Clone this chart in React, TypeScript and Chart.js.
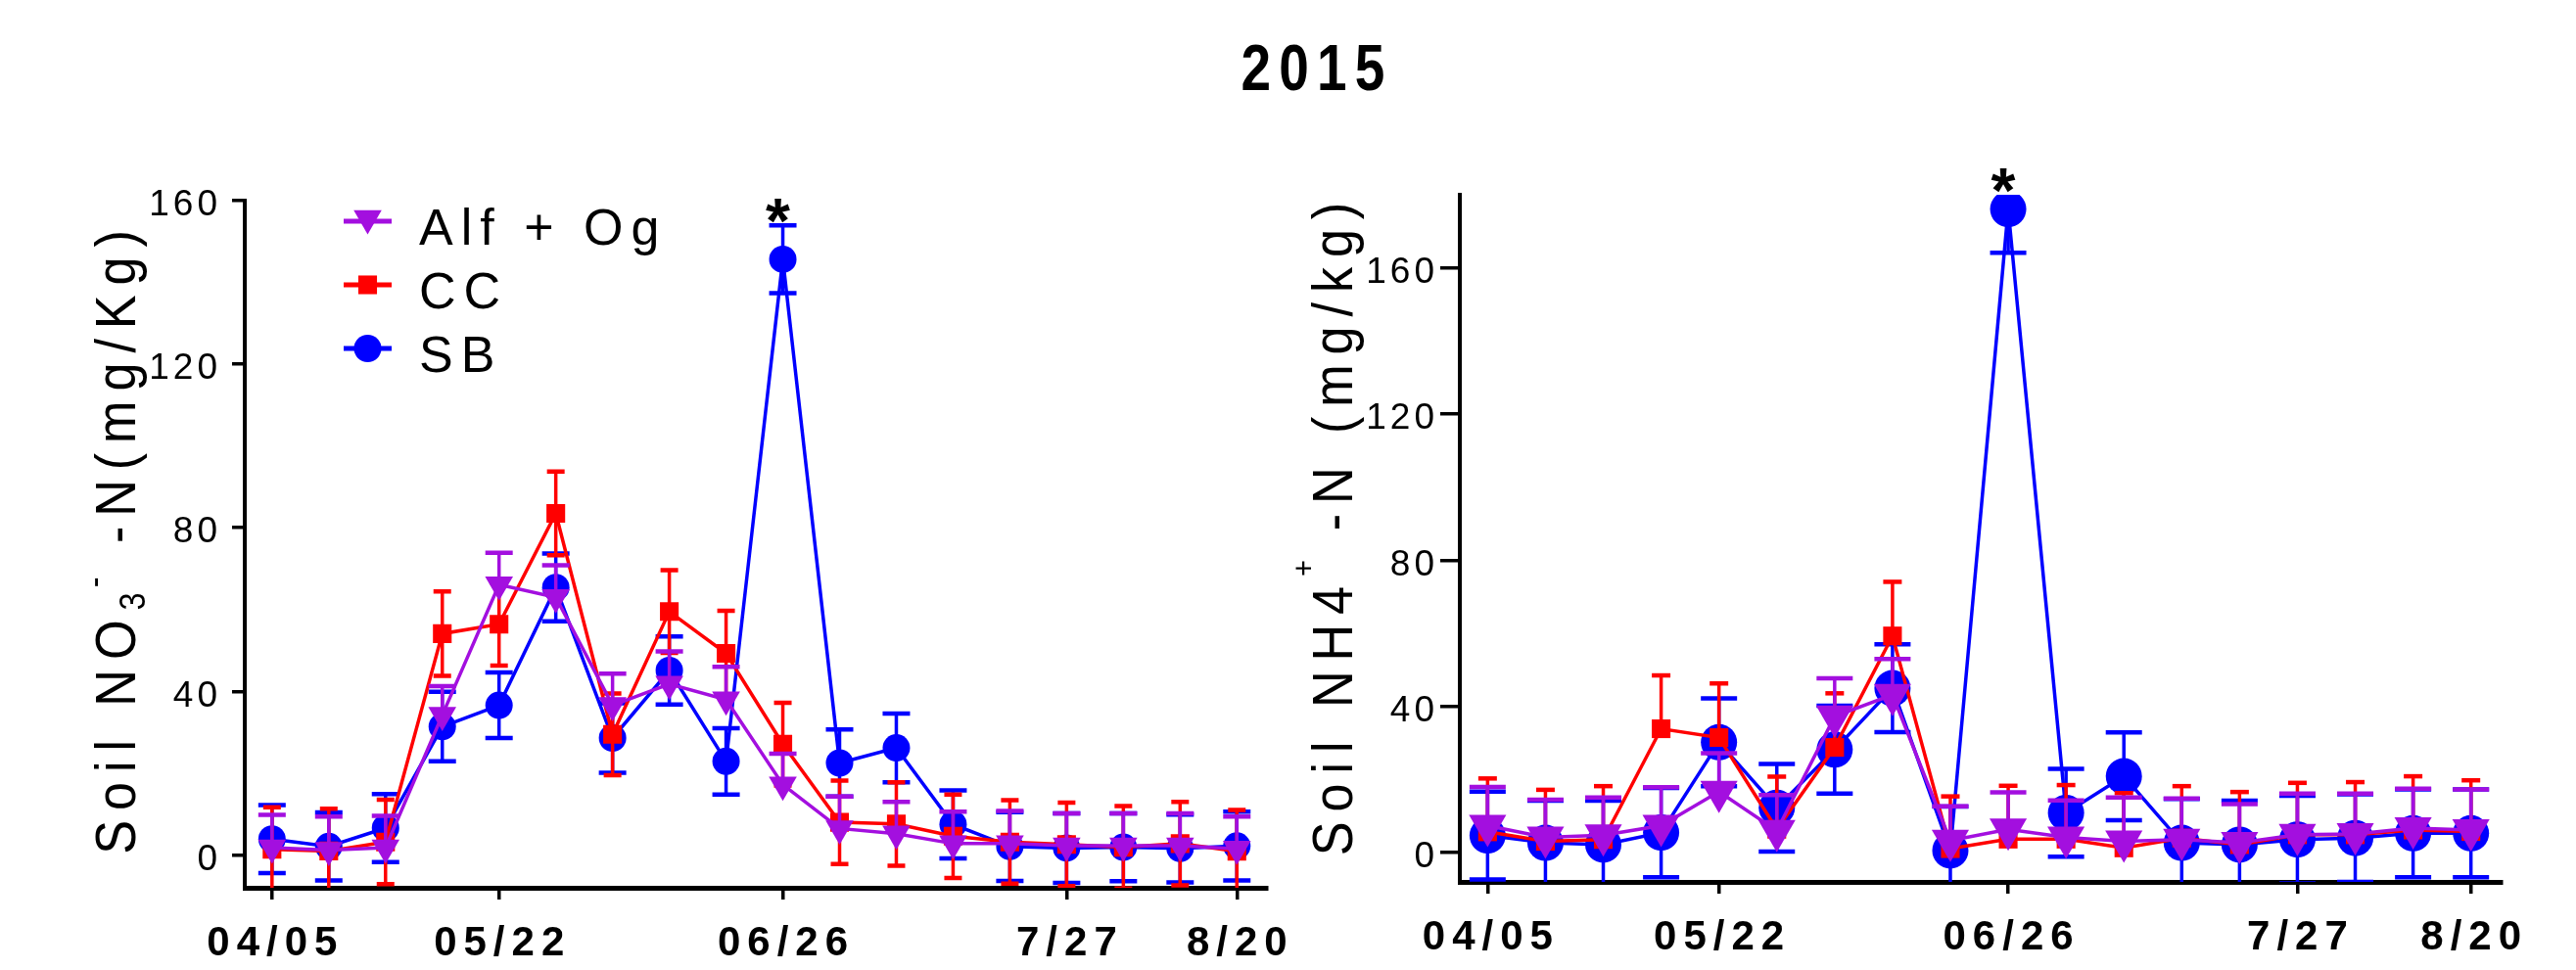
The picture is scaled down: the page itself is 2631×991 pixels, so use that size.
import React, { useEffect, useRef } from 'react';
import { Chart, registerables } from 'chart.js';

Chart.register(...registerables);

// ---------------- data ----------------
const xIndex = [0, 1, 2, 3, 4, 5, 6, 7, 8, 9, 10, 11, 12, 13, 14, 15, 16, 17];
const tickIndex = [0, 4, 9, 14, 17];
const tickLabels = ['04/05', '05/22', '06/26', '7/27', '8/20'];
const seriesNames = ['Alf + Og', 'CC', 'SB'];
const yTicks = [0, 40, 80, 120, 160];

// Soil NO3- -N (mg/Kg)
const no3Alf = [1.8, 1.2, 1.8, 34.2, 66.1, 63.0, 36.6, 41.8, 38.0, 17.2, 6.5, 5.2, 2.8, 2.8, 2.3, 2.3, 2.3, 1.5];
const no3AlfErr = [8.0, 8.2, 7.8, 7.1, 7.8, 7.8, 7.7, 8.0, 8.0, 7.6, 7.8, 7.8, 7.8, 8.0, 7.9, 7.9, 7.9, 7.9];
const no3CC = [1.4, 1.0, 3.2, 54.1, 56.4, 83.5, 29.5, 59.5, 49.3, 27.1, 8.0, 7.6, 4.6, 3.2, 2.6, 1.9, 2.8, 0.9];
const no3CCErr = [10.3, 10.3, 10.3, 10.3, 10.1, 10.2, 10.0, 10.1, 10.4, 10.1, 10.2, 10.2, 10.2, 10.2, 10.2, 10.1, 10.2, 10.1];
const no3SB = [3.9, 2.1, 6.6, 31.4, 36.6, 65.4, 28.6, 45.1, 22.9, 145.6, 22.5, 26.2, 7.5, 2.1, 1.7, 1.9, 1.6, 2.2];
const no3SBErr = [8.3, 8.3, 8.3, 8.5, 8.0, 8.3, 8.5, 8.3, 8.1, 8.3, 8.2, 8.4, 8.3, 8.4, 8.5, 8.3, 8.3, 8.4];

// Soil NH4+ -N (mg/kg)
const nh4Alf = [7.4, 4.2, 4.8, 7.4, 16.7, 6.0, 37.3, 43.2, 3.3, 6.4, 4.2, 3.1, 3.6, 2.7, 4.9, 5.1, 6.7, 6.2];
const nh4AlfErr = [10.6, 10.3, 10.3, 10.5, 10.5, 9.8, 10.4, 9.8, 9.4, 10.1, 10.1, 12.0, 11.2, 10.6, 11.3, 11.1, 10.8, 11.1];
const nh4CC = [5.7, 3.1, 3.6, 33.9, 31.5, 6.4, 28.8, 59.3, 1.1, 3.7, 3.7, 1.3, 4.0, 2.2, 4.9, 4.9, 6.2, 5.8];
const nh4CCErr = [14.6, 14.1, 14.6, 14.6, 14.8, 14.4, 14.8, 14.8, 14.3, 14.6, 14.8, 15.0, 14.2, 14.4, 14.2, 14.4, 14.7, 14.0];
const nh4SB = [4.7, 2.7, 2.2, 5.5, 30.2, 12.3, 28.2, 45.0, 0.6, 176.1, 10.9, 20.9, 2.7, 2.2, 3.6, 4.0, 5.3, 5.3];
const nh4SBErr = [12.0, 11.5, 12.0, 12.2, 12.0, 12.0, 12.0, 12.0, 12.0, 12.0, 12.0, 12.0, 12.0, 12.0, 12.0, 12.0, 12.0, 12.0];

const titleText = '2015';
const starText = '*';

// ---------------- styles ----------------
const FONT = "Arial, 'Liberation Sans', Helvetica, sans-serif";
const PURPLE = '#A30FDF';
const RED = '#FF0000';
const BLUE = '#0000FF';

type Series = {
  label: string;
  color: string;
  values: number[];
  err: number[];
  both: boolean;
  style: string;
  radius: number;
  rotation: number;
  cap: number;
};

type Seg = { text: string; size: number; sp: number; dy: number };

type Spec = {
  canvasW: number;
  canvasH: number;
  area: { left: number; top: number; right: number; bottom: number };
  yMin: number;
  yMax: number;
  yTickLen: number;
  yTickPad: number;
  series: Series[];
  titleSegs: Seg[];
  titleBaseX: number;
  titleCenterY: number;
  legend: boolean;
  starIndex: number;
  starValue: number;
};

function drawMarker(ctx: CanvasRenderingContext2D, style: string, x: number, y: number, r: number, rotation: number) {
  ctx.beginPath();
  if (style === 'circle') {
    ctx.arc(x, y, r, 0, Math.PI * 2);
  } else if (style === 'rect') {
    const s = Math.SQRT1_2 * r;
    ctx.rect(x - s, y - s, 2 * s, 2 * s);
  } else {
    let rad = (rotation * Math.PI) / 180;
    ctx.moveTo(x + Math.sin(rad) * r, y - Math.cos(rad) * r);
    rad += (2 * Math.PI) / 3;
    ctx.lineTo(x + Math.sin(rad) * r, y - Math.cos(rad) * r);
    rad += (2 * Math.PI) / 3;
    ctx.lineTo(x + Math.sin(rad) * r, y - Math.cos(rad) * r);
    ctx.closePath();
  }
  ctx.fill();
}

function makePlugin(spec: Spec) {
  return {
    id: 'customDecor',
    beforeDraw(chart: any) {
      const pairs: [string, number][] = [['x', 7], ['y', 4]];
      for (const [id, sp] of pairs) {
        const s = chart.scales[id];
        if (s && !s.__lsPatched) {
          const orig = s.drawLabels.bind(s);
          s.drawLabels = (ca: any) => {
            const c = chart.ctx;
            c.save();
            (c as any).letterSpacing = sp + 'px';
            orig(ca);
            c.restore();
          };
          s.__lsPatched = true;
        }
      }
    },
    beforeDatasetDraw(chart: any, args: any) {
      const ser = spec.series[args.index];
      const meta = args.meta;
      const ctx: CanvasRenderingContext2D = chart.ctx;
      const ca = chart.chartArea;
      const ys = chart.scales.y;
      ctx.save();
      ctx.beginPath();
      ctx.rect(ca.left, ca.top, ca.right - ca.left, ca.bottom - ca.top);
      ctx.clip();
      ctx.strokeStyle = ser.color;
      ctx.lineCap = 'butt';
      meta.data.forEach((pt: any, i: number) => {
        const v = ser.values[i];
        const e = ser.err[i];
        const yTop = ys.getPixelForValue(v + e);
        const yBot = ser.both ? ys.getPixelForValue(v - e) : pt.y;
        ctx.lineWidth = 3.5;
        ctx.beginPath();
        ctx.moveTo(pt.x, yBot);
        ctx.lineTo(pt.x, yTop);
        ctx.stroke();
        ctx.lineWidth = 4.5;
        ctx.beginPath();
        ctx.moveTo(pt.x - ser.cap / 2, yTop);
        ctx.lineTo(pt.x + ser.cap / 2, yTop);
        if (ser.both) {
          ctx.moveTo(pt.x - ser.cap / 2, yBot);
          ctx.lineTo(pt.x + ser.cap / 2, yBot);
        }
        ctx.stroke();
      });
      ctx.restore();
    },
    afterDraw(chart: any) {
      const ctx: CanvasRenderingContext2D = chart.ctx;
      // rotated y-axis title
      ctx.save();
      ctx.translate(spec.titleBaseX, spec.titleCenterY);
      ctx.rotate(-Math.PI / 2);
      ctx.scale(0.9, 1);
      ctx.fillStyle = '#000';
      ctx.textAlign = 'left';
      ctx.textBaseline = 'alphabetic';
      const widths = spec.titleSegs.map((s) => {
        ctx.font = `${s.size}px ${FONT}`;
        (ctx as any).letterSpacing = `${s.sp}px`;
        return ctx.measureText(s.text).width;
      });
      const total = widths.reduce((a, b) => a + b, 0);
      let x = -total / 2;
      spec.titleSegs.forEach((s, i) => {
        ctx.font = `${s.size}px ${FONT}`;
        (ctx as any).letterSpacing = `${s.sp}px`;
        ctx.fillText(s.text, x, s.dy);
        x += widths[i];
      });
      ctx.restore();

      // significance star
      ctx.save();
      ctx.fillStyle = '#000';
      ctx.font = `bold 64px ${FONT}`;
      ctx.textAlign = 'left';
      ctx.textBaseline = 'alphabetic';
      const m = ctx.measureText(starText);
      const sx = chart.scales.x.getPixelForValue(spec.starIndex) - 5;
      const sy = chart.scales.y.getPixelForValue(spec.starValue);
      const gx = sx - (m.actualBoundingBoxRight - m.actualBoundingBoxLeft) / 2 + m.actualBoundingBoxLeft;
      const gy = sy + (m.actualBoundingBoxAscent - m.actualBoundingBoxDescent) / 2;
      ctx.fillText(starText, gx, gy);
      ctx.restore();

      // legend
      if (spec.legend) {
        ctx.save();
        spec.series.forEach((s, i) => {
          const ly = 226 + i * 65;
          ctx.strokeStyle = s.color;
          ctx.fillStyle = s.color;
          ctx.lineWidth = 5;
          ctx.beginPath();
          ctx.moveTo(351, ly);
          ctx.lineTo(400, ly);
          ctx.stroke();
          const my = s.style === 'triangle' ? ly - 3 : ly;
          drawMarker(ctx, s.style, 375.5, my, s.radius, s.rotation);
          ctx.fillStyle = '#000';
          ctx.font = `52px ${FONT}`;
          (ctx as any).letterSpacing = '8px';
          ctx.textAlign = 'left';
          ctx.textBaseline = 'alphabetic';
          ctx.fillText(s.label, 428, ly + 24);
        });
        ctx.restore();
      }
    },
  };
}

function buildConfig(spec: Spec): any {
  const a = spec.area;
  return {
    type: 'line',
    data: {
      datasets: spec.series.map((s) => ({
        label: s.label,
        data: xIndex.map((x, i) => ({ x, y: s.values[i] })),
        borderColor: s.color,
        backgroundColor: s.color,
        borderWidth: 3.5,
        tension: 0,
        fill: false,
        pointStyle: s.style,
        pointRadius: s.radius,
        pointRotation: s.rotation,
        pointBackgroundColor: s.color,
        pointBorderColor: s.color,
        pointBorderWidth: 0,
        pointHoverRadius: s.radius,
      })),
    },
    options: {
      animation: false,
      responsive: false,
      maintainAspectRatio: false,
      events: [],
      layout: { padding: { left: 0, top: a.top, right: spec.canvasW - a.right, bottom: 0 } },
      plugins: {
        legend: { display: false },
        tooltip: { enabled: false },
        title: { display: false },
      },
      scales: {
        x: {
          type: 'linear',
          bounds: 'data',
          min: -0.48,
          max: 17.53,
          afterBuildTicks: (s: any) => {
            s.ticks = tickIndex.map((v) => ({ value: v }));
          },
          afterFit: (s: any) => {
            s.height = spec.canvasH - a.bottom;
            s.paddingLeft = 0;
            s.paddingRight = 0;
          },
          ticks: {
            autoSkip: false,
            maxRotation: 0,
            minRotation: 0,
            color: '#000',
            padding: 20,
            labelOffset: 3.5,
            font: { family: FONT, size: 42, weight: 'bold' },
            callback: (v: any) => {
              const k = tickIndex.indexOf(Number(v));
              return k >= 0 ? tickLabels[k] : '';
            },
          },
          grid: {
            display: true,
            drawOnChartArea: false,
            drawTicks: true,
            tickLength: 12,
            tickWidth: 3.5,
            lineWidth: 3.5,
            tickColor: '#000',
            color: '#000',
          },
          border: { display: true, color: '#000', width: 5 },
        },
        y: {
          type: 'linear',
          bounds: 'data',
          min: spec.yMin,
          max: spec.yMax,
          afterBuildTicks: (s: any) => {
            s.ticks = yTicks.map((v) => ({ value: v }));
          },
          afterFit: (s: any) => {
            s.width = a.left;
            s.paddingTop = 0;
            s.paddingBottom = 0;
          },
          ticks: {
            color: '#000',
            padding: spec.yTickPad,
            labelOffset: 5,
            font: { family: FONT, size: 37 },
          },
          grid: {
            display: true,
            drawOnChartArea: false,
            drawTicks: true,
            tickLength: spec.yTickLen,
            tickWidth: 3.5,
            lineWidth: 3.5,
            tickColor: '#000',
            color: '#000',
          },
          border: { display: true, color: '#000', width: 4 },
        },
      },
    },
    plugins: [makePlugin(spec)],
  };
}

const LEFT_X = 0;
const RIGHT_X = 1310;

const leftSpec: Spec = {
  canvasW: 1330,
  canvasH: 991,
  area: { left: 250, top: 204.7, right: 1294, bottom: 907 },
  yMin: -8,
  yMax: 160,
  yTickLen: 13,
  yTickPad: 11,
  series: [
    { label: seriesNames[0], color: PURPLE, values: no3Alf, err: no3AlfErr, both: false, style: 'triangle', radius: 16.5, rotation: 180, cap: 28 },
    { label: seriesNames[1], color: RED, values: no3CC, err: no3CCErr, both: true, style: 'rect', radius: 13.5, rotation: 0, cap: 18 },
    { label: seriesNames[2], color: BLUE, values: no3SB, err: no3SBErr, both: true, style: 'circle', radius: 14, rotation: 0, cap: 28 },
  ],
  titleSegs: [
    { text: 'Soil NO', size: 58, sp: 11, dy: 0 },
    { text: '3', size: 36, sp: 6, dy: 10 },
    { text: '-', size: 36, sp: 11, dy: -30 },
    { text: ' -N(mg/Kg)', size: 58, sp: 11, dy: 0 },
  ],
  titleBaseX: 138 - LEFT_X,
  titleCenterY: 549,
  legend: true,
  starIndex: 9,
  starValue: 157.5,
};

const rightSpec: Spec = {
  canvasW: 1321,
  canvasH: 991,
  area: { left: 1491 - RIGHT_X, top: 199, right: 2555 - RIGHT_X, bottom: 901 },
  yMin: -8,
  yMax: 180,
  yTickLen: 20,
  yTickPad: 2,
  series: [
    { label: seriesNames[0], color: PURPLE, values: nh4Alf, err: nh4AlfErr, both: false, style: 'triangle', radius: 22, rotation: 180, cap: 37 },
    { label: seriesNames[1], color: RED, values: nh4CC, err: nh4CCErr, both: false, style: 'rect', radius: 13.5, rotation: 0, cap: 19 },
    { label: seriesNames[2], color: BLUE, values: nh4SB, err: nh4SBErr, both: true, style: 'circle', radius: 18.5, rotation: 0, cap: 37 },
  ],
  titleSegs: [
    { text: 'Soil NH4', size: 58, sp: 11, dy: 0 },
    { text: '+', size: 32, sp: 6, dy: -39 },
    { text: ' -N (mg/kg)', size: 58, sp: 11, dy: 0 },
  ],
  titleBaseX: 1381 - RIGHT_X,
  titleCenterY: 535.5,
  legend: false,
  starIndex: 9,
  starValue: 183.8,
};

export default function App() {
  const leftRef = useRef<HTMLCanvasElement>(null);
  const rightRef = useRef<HTMLCanvasElement>(null);

  useEffect(() => {
    const c1 = new Chart(leftRef.current as HTMLCanvasElement, buildConfig(leftSpec));
    const c2 = new Chart(rightRef.current as HTMLCanvasElement, buildConfig(rightSpec));
    return () => {
      c1.destroy();
      c2.destroy();
    };
  }, []);

  return (
    <div
      style={{
        position: 'absolute',
        left: 0,
        top: 0,
        width: 2631,
        height: 991,
        background: '#fff',
        overflow: 'hidden',
      }}
    >
      <div
        style={{
          position: 'absolute',
          left: 1145,
          top: 35,
          width: 400,
          textAlign: 'center',
          fontFamily: FONT,
          fontWeight: 'bold',
          fontSize: 67,
          lineHeight: '67px',
          letterSpacing: '10px',
          transform: 'scaleX(0.82)',
          color: '#000',
        }}
      >
        {titleText}
      </div>
      <canvas
        ref={leftRef}
        width={leftSpec.canvasW}
        height={leftSpec.canvasH}
        style={{ position: 'absolute', left: LEFT_X, top: 0, width: leftSpec.canvasW, height: leftSpec.canvasH }}
      />
      <canvas
        ref={rightRef}
        width={rightSpec.canvasW}
        height={rightSpec.canvasH}
        style={{ position: 'absolute', left: RIGHT_X, top: 0, width: rightSpec.canvasW, height: rightSpec.canvasH }}
      />
    </div>
  );
}
